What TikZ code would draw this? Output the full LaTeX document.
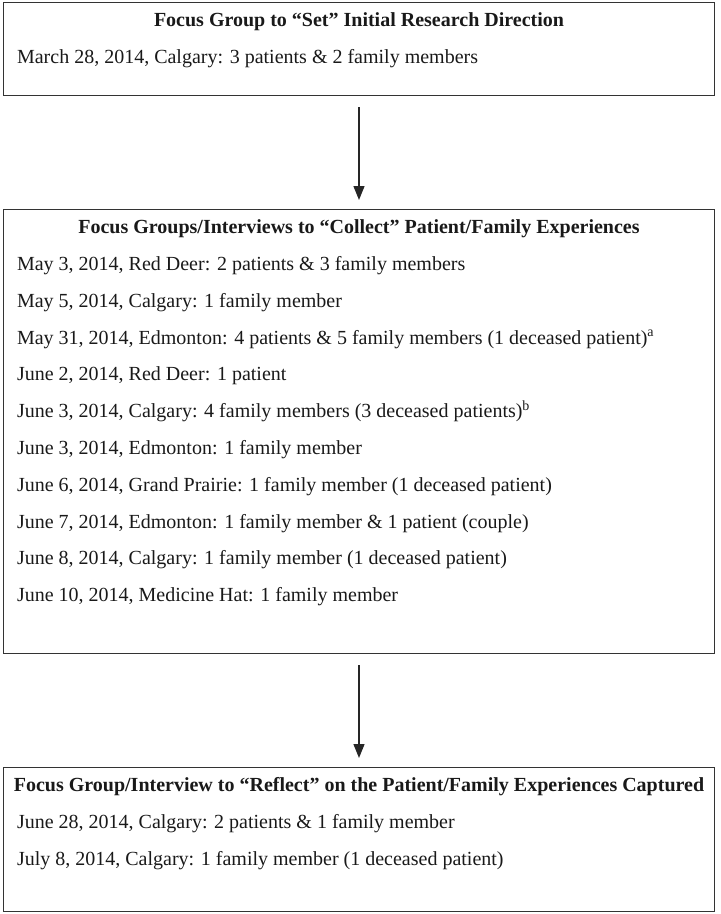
\documentclass[tikz,border=0pt]{standalone}
\usepackage{fontspec}
\setmainfont{Liberation Serif}
\usepackage{tikz}
\usetikzlibrary{arrows.meta,positioning}

\begin{document}
\begin{tikzpicture}[
  x=1pt, y=1pt,
  stage/.style={draw=black!80, line width=1.3pt, minimum width=711pt,
    anchor=north, inner sep=0pt},
  heading/.style={font=\bfseries\fontsize{20}{24}\selectfont, anchor=base,
    inner sep=0pt, text=black!90},
  entry/.style={font=\fontsize{20}{24}\selectfont, anchor=base west,
    inner sep=0pt, text=black!90},
  link/.style={->, draw=black!85, line width=1.3pt, shorten <=11pt, shorten >=9pt},
  >={Triangle[width=11pt,length=14pt]}]
  \useasboundingbox (0,0) rectangle (721,-914);

  % the three stages
  \node[stage, minimum height=93pt] (set) at (359,-2) {};
  \node[stage, minimum height=444pt] (collect) at (359,-209) {};
  \node[stage, minimum height=144pt] (reflect) at (359,-767) {};

  \node[heading] (set-title) at ([yshift=-24.5pt]set.north)
    {Focus Group to “Set” Initial Research Direction};
  \node[heading] (collect-title) at ([yshift=-24.5pt]collect.north)
    {Focus Groups/Interviews to “Collect” Patient/Family Experiences};
  \node[heading] (reflect-title) at ([yshift=-24.5pt]reflect.north)
    {Focus Group/Interview to “Reflect” on the Patient/Family Experiences Captured};

  \foreach \txt [count=\i] in {{March 28, 2014, Calgary: 3 patients \& 2 family members}}
    \node[entry] (set-\i) at ([xshift=14pt,yshift={-61.5pt-36.8pt*(\i-1)}]set.north west) {\txt};

  \foreach \txt [count=\i] in {
      {May 3, 2014, Red Deer: 2 patients \& 3 family members},
      {May 5, 2014, Calgary: 1 family member},
      {May 31, 2014, Edmonton: 4 patients \& 5 family members (1 deceased patient)\textsuperscript{a}},
      {June 2, 2014, Red Deer: 1 patient},
      {June 3, 2014, Calgary: 4 family members (3 deceased patients)\textsuperscript{b}},
      {June 3, 2014, Edmonton: 1 family member},
      {June 6, 2014, Grand Prairie: 1 family member (1 deceased patient)},
      {June 7, 2014, Edmonton: 1 family member \& 1 patient (couple)},
      {June 8, 2014, Calgary: 1 family member (1 deceased patient)},
      {June 10, 2014, Medicine Hat: 1 family member}}
    \node[entry] (collect-\i) at ([xshift=14pt,yshift={-61.5pt-36.8pt*(\i-1)}]collect.north west) {\txt};

  \foreach \txt [count=\i] in {
      {June 28, 2014, Calgary: 2 patients \& 1 family member},
      {July 8, 2014, Calgary: 1 family member (1 deceased patient)}}
    \node[entry] (reflect-\i) at ([xshift=14pt,yshift={-61.5pt-36.8pt*(\i-1)}]reflect.north west) {\txt};

  \draw[link] (set) -- (collect);
  \draw[link] (collect) -- (reflect);
\end{tikzpicture}
\end{document}
